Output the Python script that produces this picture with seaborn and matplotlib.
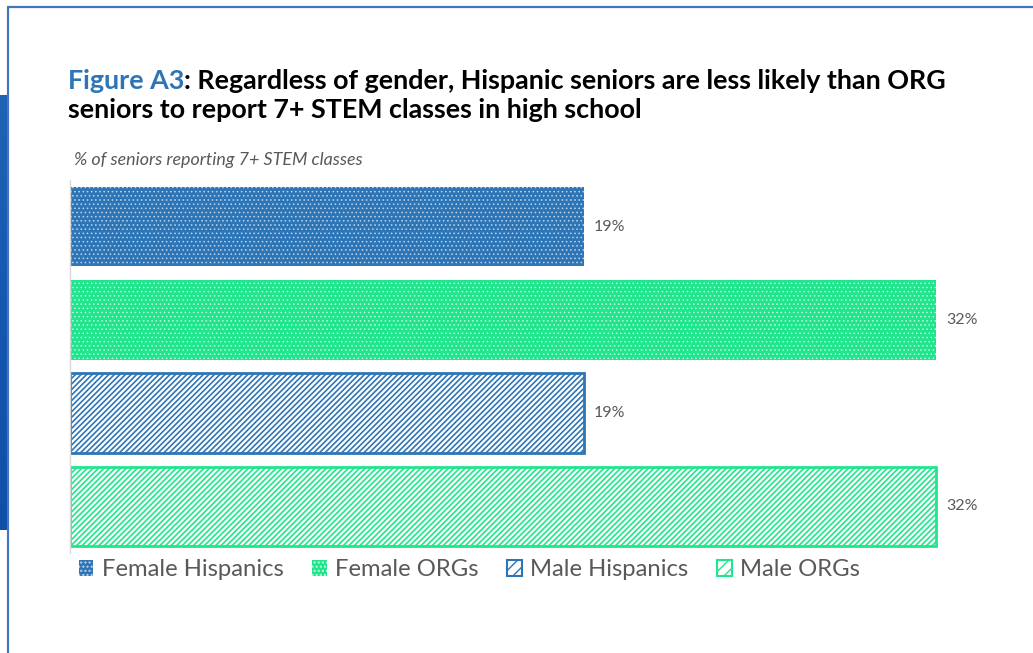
import matplotlib
matplotlib.use("Agg")
import matplotlib.pyplot as plt
from matplotlib.patches import Patch
from matplotlib.lines import Line2D
import seaborn as sns
import pandas as pd
import numpy as np

# ---- data -------------------------------------------------------------
groups = ["Female Hispanics", "Female ORGs", "Male Hispanics", "Male ORGs"]
shares = [0.19, 0.32, 0.19, 0.32]
value_labels = ["19%", "32%", "19%", "32%"]

title_lead = "Figure A3"
title_rest_1 = ": Regardless of gender, Hispanic seniors are less likely than ORG"
title_line_2 = "seniors to report 7+ STEM classes in high school"
subtitle = "% of seniors reporting 7+ STEM classes"

BLUE = "#2E75B6"
GREEN = "#1FE68C"
BLUE_DOT = "#B9D5F0"
GREEN_DOT = "#BDF7DC"
GREY_TXT = "#595959"

sns.set_theme(style="white")
plt.rcParams["font.family"] = ["Lato", "DejaVu Sans"]
plt.rcParams["hatch.linewidth"] = 1.0

df = pd.DataFrame({"group": groups, "share": shares})

fig = plt.figure(figsize=(10.33, 6.53), dpi=100)
W, H = 1033, 653
ax = fig.add_axes([70 / W, 1 - 553 / H, 947 / W, 373 / H])

sns.barplot(data=df, y="group", x="share", hue="group", order=groups,
            hue_order=groups, palette=[BLUE, GREEN, BLUE, GREEN],
            width=0.85, dodge=False, legend=False, ax=ax)

styles = {
    "Female Hispanics": dict(face=BLUE, edge=BLUE_DOT, hatch="....", lw=0),
    "Female ORGs": dict(face=GREEN, edge=GREEN_DOT, hatch="....", lw=0),
    "Male Hispanics": dict(face="white", edge=BLUE, hatch="//////", lw=2.0),
    "Male ORGs": dict(face="white", edge=GREEN, hatch="//////", lw=2.0),
}

for bar, g in zip(ax.patches, groups):
    s = styles[g]
    bar.set_facecolor(s["face"])
    bar.set_edgecolor(s["edge"])
    bar.set_hatch(s["hatch"])
    bar.set_linewidth(s["lw"])
    if hasattr(bar, "set_hatch_linewidth"):
        bar.set_hatch_linewidth(0.6 if s["hatch"] == "...." else 1.2)

for bar, lab in zip(ax.patches, value_labels):
    ax.annotate(lab, (bar.get_width(), bar.get_y() + bar.get_height() / 2),
                xytext=(10, 0), textcoords="offset pixels", va="center",
                ha="left", fontsize=11.5, color=GREY_TXT)

ax.set_xlim(0, 0.35)
ax.set_ylim(3.5, -0.5)
ax.set_xlabel("")
ax.set_ylabel("")
ax.set_xticks([])
ax.set_yticks([])
for side in ["top", "right", "bottom"]:
    ax.spines[side].set_visible(False)
ax.spines["left"].set_color("#D9D9D9")
ax.spines["left"].set_linewidth(1.0)

# ---- title in two colours --------------------------------------------
fig.canvas.draw()
renderer = fig.canvas.get_renderer()
tsize = 19.4
x0, y1, y2 = 68 / W, 1 - 89 / H, 1 - 118 / H
t1 = fig.text(x0, y1, title_lead, color=BLUE, fontsize=tsize,
              fontweight="bold", va="baseline", ha="left")
bb = t1.get_window_extent(renderer)
fig.text(bb.x1 / W, y1, title_rest_1, color="black", fontsize=tsize,
         fontweight="bold", va="baseline", ha="left")
fig.text(x0, y2, title_line_2, color="black", fontsize=tsize,
         fontweight="bold", va="baseline", ha="left")

fig.text(74 / W, 1 - 160 / H, subtitle, fontsize=12.9, style="italic",
         color=GREY_TXT, va="center", ha="left")

# ---- legend -----------------------------------------------------------
handles = [Patch(facecolor=styles[g]["face"], edgecolor=styles[g]["edge"],
                 hatch=styles[g]["hatch"].replace("//////", "///"),
                 linewidth=1.5 if styles[g]["lw"] else 0)
           for g in groups]
fig.legend(handles, groups, loc="center left", ncol=4,
           bbox_to_anchor=(79 / W, 1 - 570 / H), frameon=False,
           fontsize=17.2, labelcolor=GREY_TXT, handlelength=0.6,
           handleheight=0.6, handletextpad=0.36, columnspacing=1.2,
           borderpad=0, borderaxespad=0)

# ---- slide frame ------------------------------------------------------
frame = "#4472C4"
fig.add_artist(Line2D([8 / W, 1], [1 - 7 / H, 1 - 7 / H], color=frame,
                      lw=1.6, transform=fig.transFigure))
fig.add_artist(Line2D([8 / W, 8 / W], [0, 1 - 7 / H], color=frame,
                      lw=1.6, transform=fig.transFigure))
grad = np.linspace(0, 1, 256).reshape(-1, 1)
strip = fig.add_axes([0, 1 - 530 / H, 7 / W, 435 / H])
strip.imshow(grad, aspect="auto", cmap=matplotlib.colors.LinearSegmentedColormap.from_list(
    "strip", ["#1F63B5", "#1558B0", "#0F4FA8"]))
strip.axis("off")

fig.savefig("out.png", dpi=100)
